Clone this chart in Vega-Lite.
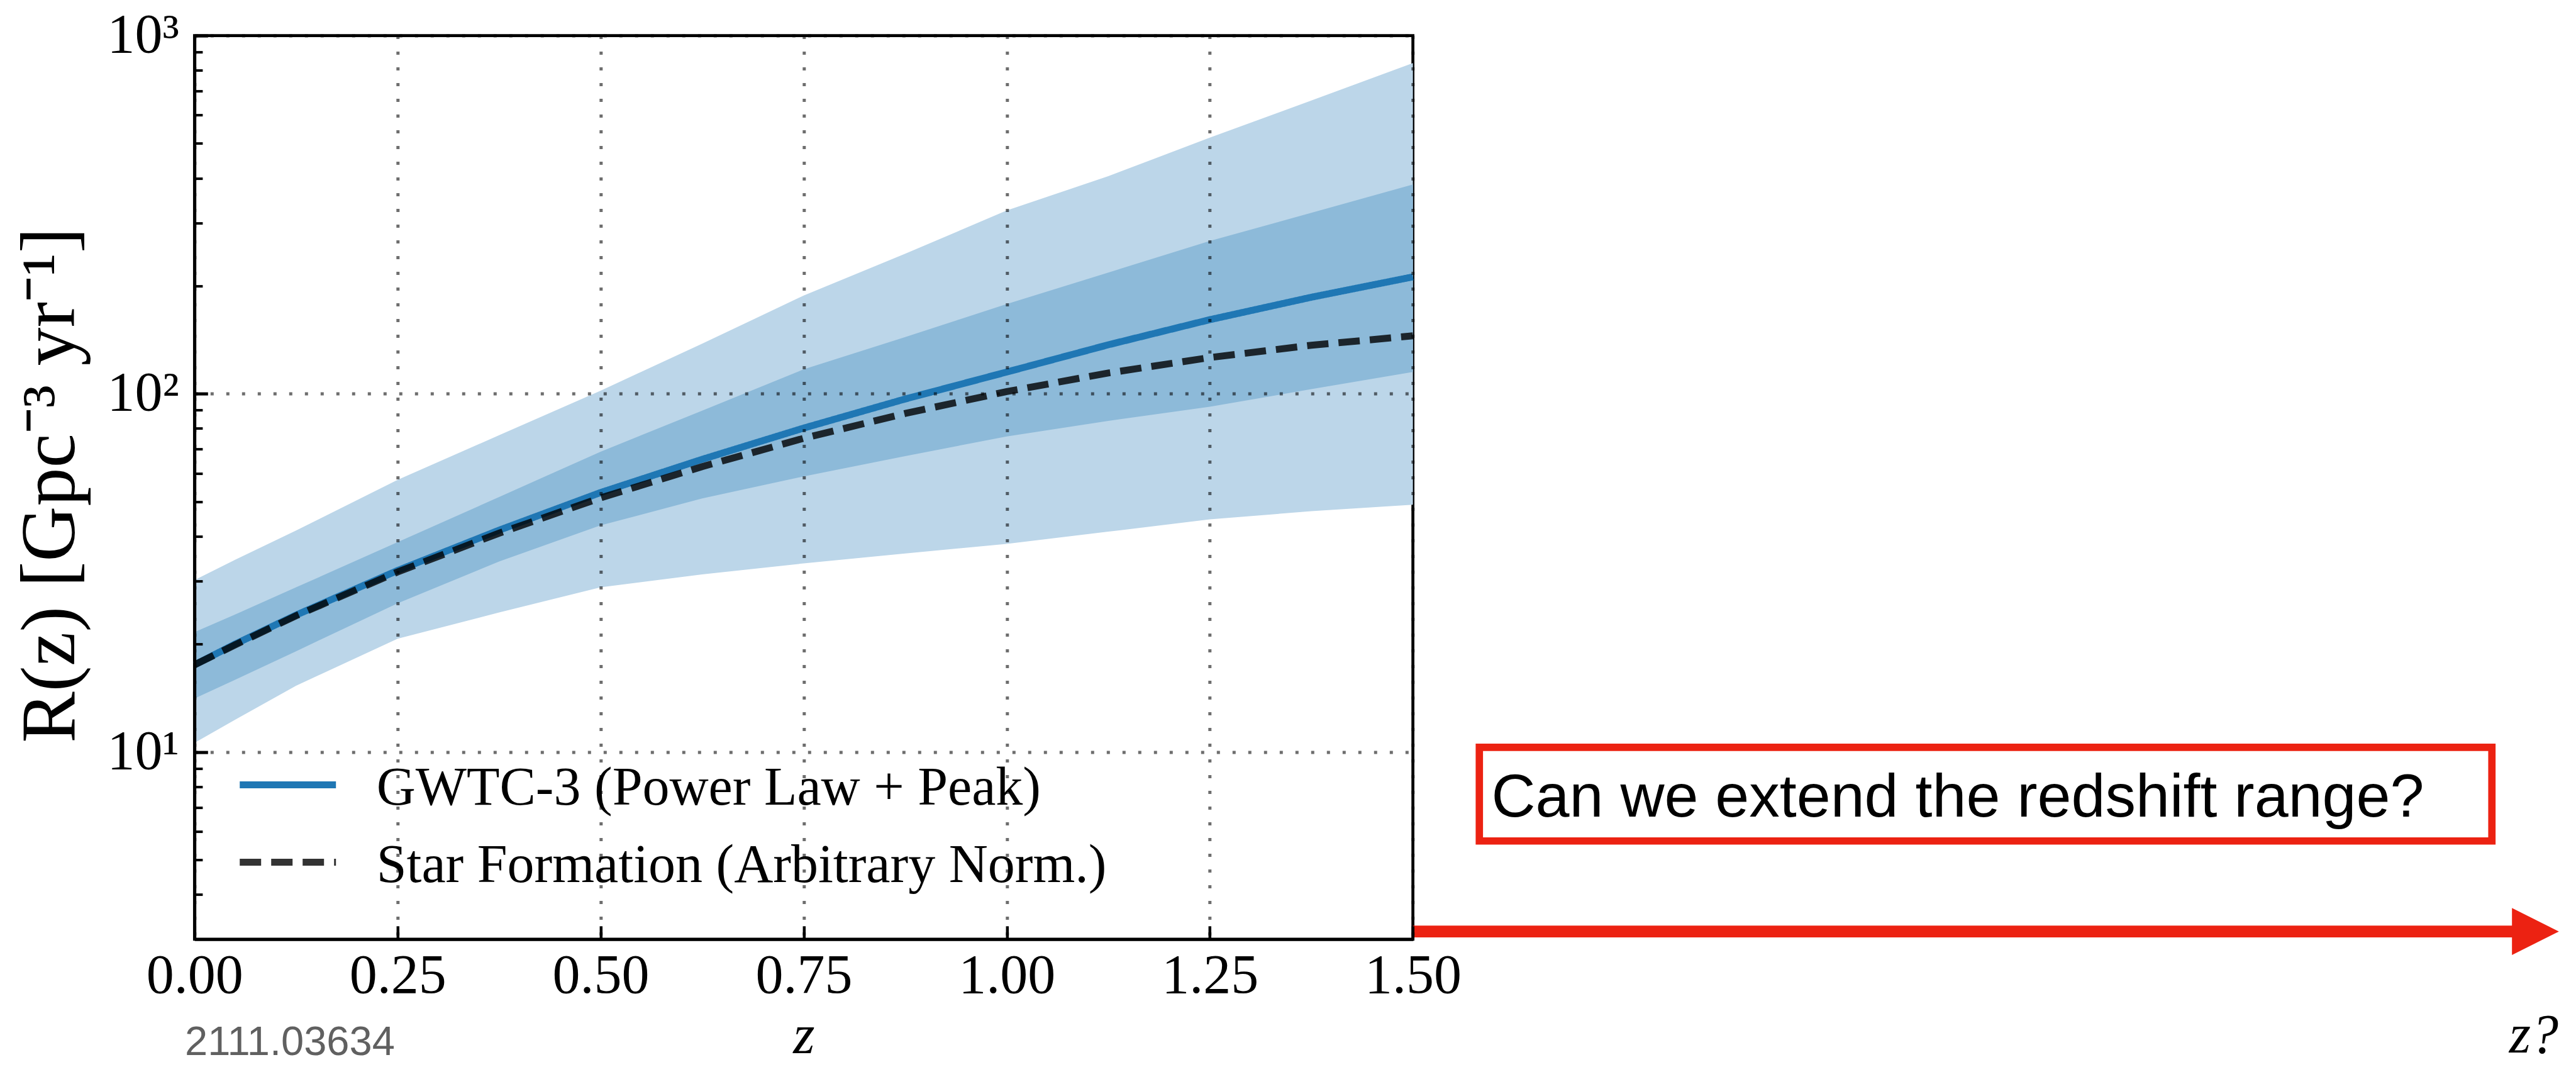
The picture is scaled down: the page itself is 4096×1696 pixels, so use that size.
{
  "$schema": "https://vega.github.io/schema/vega-lite/v6.json",
  "autosize": "none",
  "padding": {"left": 309.3, "top": 56.6, "right": 1849.4, "bottom": 203.2},
  "width": 1937.3,
  "height": 1436.2,
  "background": "white",
  "config": {
    "view": {"stroke": "black", "strokeWidth": 4.7},
    "font": "Liberation Serif"
  },
  "datasets": {
    "bands": [
      {"z": 0.0, "lo90": 10.6, "lo50": 14.1, "hi50": 21.6, "hi90": 30.2},
      {"z": 0.05, "lo90": 12.3, "lo50": 15.9, "hi50": 24.2, "hi90": 34.4},
      {"z": 0.125, "lo90": 15.3, "lo50": 19.1, "hi50": 28.8, "hi90": 41.5},
      {"z": 0.25, "lo90": 20.7, "lo50": 26.0, "hi50": 38.5, "hi90": 57.5},
      {"z": 0.375, "lo90": 24.5, "lo50": 34.0, "hi50": 51.5, "hi90": 76.6},
      {"z": 0.5, "lo90": 28.8, "lo50": 42.9, "hi50": 68.9, "hi90": 102},
      {"z": 0.625, "lo90": 31.3, "lo50": 51.0, "hi50": 89.7, "hi90": 138},
      {"z": 0.75, "lo90": 33.6, "lo50": 58.8, "hi50": 117, "hi90": 188},
      {"z": 0.875, "lo90": 35.8, "lo50": 67.0, "hi50": 144, "hi90": 246},
      {"z": 1.0, "lo90": 38.1, "lo50": 76.0, "hi50": 178, "hi90": 325},
      {"z": 1.125, "lo90": 41.2, "lo50": 84.0, "hi50": 218, "hi90": 405},
      {"z": 1.25, "lo90": 44.6, "lo50": 92.0, "hi50": 267, "hi90": 519},
      {"z": 1.375, "lo90": 47.0, "lo50": 103, "hi50": 320, "hi90": 659},
      {"z": 1.5, "lo90": 49.0, "lo50": 115, "hi50": 384, "hi90": 838}
    ],
    "lines": [
      {"z": 0.0, "series": "GWTC-3 (Power Law + Peak)", "R": 17.5},
      {"z": 0.05, "series": "GWTC-3 (Power Law + Peak)", "R": 20.0},
      {"z": 0.125, "series": "GWTC-3 (Power Law + Peak)", "R": 24.1},
      {"z": 0.25, "series": "GWTC-3 (Power Law + Peak)", "R": 32.1},
      {"z": 0.375, "series": "GWTC-3 (Power Law + Peak)", "R": 41.6},
      {"z": 0.5, "series": "GWTC-3 (Power Law + Peak)", "R": 53.0},
      {"z": 0.625, "series": "GWTC-3 (Power Law + Peak)", "R": 65.6},
      {"z": 0.75, "series": "GWTC-3 (Power Law + Peak)", "R": 80.2},
      {"z": 0.875, "series": "GWTC-3 (Power Law + Peak)", "R": 96.7},
      {"z": 1.0, "series": "GWTC-3 (Power Law + Peak)", "R": 115},
      {"z": 1.125, "series": "GWTC-3 (Power Law + Peak)", "R": 137},
      {"z": 1.25, "series": "GWTC-3 (Power Law + Peak)", "R": 161},
      {"z": 1.375, "series": "GWTC-3 (Power Law + Peak)", "R": 186},
      {"z": 1.5, "series": "GWTC-3 (Power Law + Peak)", "R": 212},
      {"z": 0.0, "series": "Star Formation (Arbitrary Norm.)", "R": 17.5},
      {"z": 0.05, "series": "Star Formation (Arbitrary Norm.)", "R": 19.9},
      {"z": 0.125, "series": "Star Formation (Arbitrary Norm.)", "R": 24.0},
      {"z": 0.25, "series": "Star Formation (Arbitrary Norm.)", "R": 31.8},
      {"z": 0.375, "series": "Star Formation (Arbitrary Norm.)", "R": 40.8},
      {"z": 0.5, "series": "Star Formation (Arbitrary Norm.)", "R": 51.2},
      {"z": 0.625, "series": "Star Formation (Arbitrary Norm.)", "R": 62.6},
      {"z": 0.75, "series": "Star Formation (Arbitrary Norm.)", "R": 75.1},
      {"z": 0.875, "series": "Star Formation (Arbitrary Norm.)", "R": 88.1},
      {"z": 1.0, "series": "Star Formation (Arbitrary Norm.)", "R": 101.4},
      {"z": 1.125, "series": "Star Formation (Arbitrary Norm.)", "R": 114.3},
      {"z": 1.25, "series": "Star Formation (Arbitrary Norm.)", "R": 126.2},
      {"z": 1.375, "series": "Star Formation (Arbitrary Norm.)", "R": 136.6},
      {"z": 1.5, "series": "Star Formation (Arbitrary Norm.)", "R": 145.1}
    ],
    "note": [{"label": "annotation"}]
  },
  "layer": [
    {
      "data": {"name": "bands"},
      "mark": {"type": "area", "color": "#bcd6e9", "opacity": 1},
      "encoding": {
        "x": {
          "field": "z", "type": "quantitative",
          "scale": {"domain": [0, 1.5], "nice": false, "zero": false},
          "axis": {
            "values": [0, 0.25, 0.5, 0.75, 1, 1.25, 1.5],
            "format": ".2f",
            "title": "z",
            "titleFont": "Liberation Serif", "titleFontStyle": "italic", "titleFontWeight": "normal",
            "titleFontSize": 88, "titleColor": "black",
            "titleX": 968.65, "titleY": 181, "titleAlign": "center", "titleBaseline": "alphabetic",
            "labelFont": "Liberation Serif", "labelFontSize": 88, "labelColor": "black",
            "labelBaseline": "alphabetic", "labelPadding": 106, "labelFlush": false, "labelOverlap": false,
            "tickSize": -21, "tickWidth": 4.5, "tickColor": "black",
            "domainColor": "black", "domainWidth": 4.7,
            "grid": true, "gridColor": "black", "gridOpacity": 0.57, "gridWidth": 5, "gridDash": [5, 20],
            "zindex": 1
          }
        },
        "y": {
          "field": "lo90", "type": "quantitative",
          "scale": {"type": "log", "domain": [3, 1000], "nice": false},
          "axis": {
            "values": [4, 5, 6, 7, 8, 9, 10, 20, 30, 40, 50, 60, 70, 80, 90, 100, 200, 300, 400, 500, 600, 700, 800, 900, 1000],
            "labelExpr": "datum.value == 10 ? '10¹' : datum.value == 100 ? '10²' : datum.value == 1000 ? '10³' : ''",
            "title": "R(z)   [Gpc⁻³  yr⁻¹]",
            "titleFont": "Liberation Serif", "titleFontWeight": "normal", "titleFontSize": 122, "titleColor": "black",
            "titleAngle": 270, "titleX": -191.5, "titleY": 714, "titleAlign": "center", "titleBaseline": "alphabetic",
            "labelFont": "Liberation Serif", "labelFontSize": 88, "labelColor": "black",
            "labelAlign": "right", "labelBaseline": "middle", "labelPadding": 46, "labelOverlap": false,
            "tickSize": {"condition": {"test": "datum.value == 10 || datum.value == 100 || datum.value == 1000", "value": -21}, "value": -12.6},
            "tickWidth": {"condition": {"test": "datum.value == 10 || datum.value == 100 || datum.value == 1000", "value": 5}, "value": 4},
            "tickColor": "black",
            "domainColor": "black", "domainWidth": 4.7,
            "grid": true, "gridColor": "black", "gridWidth": 5, "gridDash": [5, 20],
            "gridOpacity": {"condition": {"test": "datum.value == 10 || datum.value == 100 || datum.value == 1000", "value": 0.57}, "value": 0},
            "zindex": 1
          }
        },
        "y2": {"field": "hi90"}
      }
    },
    {
      "data": {"name": "bands"},
      "mark": {"type": "area", "color": "#8dbad9", "opacity": 1},
      "encoding": {
        "x": {"field": "z", "type": "quantitative"},
        "y": {"field": "lo50", "type": "quantitative"},
        "y2": {"field": "hi50"}
      }
    },
    {
      "data": {"name": "lines"},
      "mark": {"type": "line", "strokeWidth": 11, "strokeCap": "butt"},
      "encoding": {
        "x": {"field": "z", "type": "quantitative"},
        "y": {"field": "R", "type": "quantitative"},
        "color": {
          "field": "series", "type": "nominal",
          "scale": {"domain": ["GWTC-3 (Power Law + Peak)", "Star Formation (Arbitrary Norm.)"], "range": ["#1f77b4", "#000000"]},
          "legend": {
            "orient": "none", "legendX": 66.4, "legendY": 1151, "title": null,
            "symbolType": "stroke", "symbolSize": 23409, "symbolStrokeWidth": 11, "symbolOffset": 0,
            "labelFont": "Liberation Serif", "labelFontSize": 86, "labelColor": "black", "labelLimit": 3000,
            "labelOffset": 59, "rowPadding": 35, "padding": 0, "clipHeight": 80,
            "encode": {"labels": {"update": {"dy": {"value": 5}}}}
          }
        },
        "strokeDash": {
          "field": "series", "type": "nominal",
          "scale": {"domain": ["GWTC-3 (Power Law + Peak)", "Star Formation (Arbitrary Norm.)"], "range": [[1, 0], [34, 16]]}
        },
        "opacity": {
          "field": "series", "type": "nominal",
          "scale": {"domain": ["GWTC-3 (Power Law + Peak)", "Star Formation (Arbitrary Norm.)"], "range": [1, 0.8]}
        }
      }
    },
    {
      "data": {"name": "note"},
      "mark": {"type": "rule", "color": "#ec2212", "strokeWidth": 18.9, "strokeCap": "butt", "clip": false},
      "encoding": {
        "x": {"datum": 1.5, "type": "quantitative"},
        "x2": {"datum": 2.86},
        "y": {"datum": 3.151, "type": "quantitative"}
      }
    },
    {
      "data": {"name": "note"},
      "mark": {"type": "point", "shape": "M-1,-1L1,0L-1,1Z", "filled": true, "color": "#ec2212", "opacity": 1, "size": 5565, "strokeWidth": 0, "clip": false},
      "encoding": {
        "x": {"datum": 2.882, "type": "quantitative"},
        "y": {"datum": 3.151, "type": "quantitative"}
      }
    },
    {
      "data": {"name": "note"},
      "mark": {"type": "rect", "fill": "white", "fillOpacity": 0, "stroke": "#ec2212", "strokeWidth": 11.7, "clip": false},
      "encoding": {
        "x": {"datum": 1.5818, "type": "quantitative"},
        "x2": {"datum": 2.8284},
        "y": {"datum": 5.639, "type": "quantitative"},
        "y2": {"datum": 10.295}
      }
    },
    {
      "data": {"name": "note"},
      "mark": {"type": "text", "font": "Liberation Sans", "fontSize": 97, "align": "left", "baseline": "alphabetic", "color": "black", "clip": false},
      "encoding": {
        "x": {"datum": 1.5967, "type": "quantitative"},
        "y": {"datum": 6.605, "type": "quantitative"},
        "text": {"value": "Can we extend the redshift range?"}
      }
    },
    {
      "data": {"name": "note"},
      "mark": {"type": "text", "font": "Liberation Serif", "fontStyle": "italic", "fontSize": 88, "align": "right", "baseline": "alphabetic", "color": "black", "clip": false},
      "encoding": {
        "x": {"datum": 2.9102, "type": "quantitative"},
        "y": {"datum": 1.45, "type": "quantitative"},
        "text": {"value": "z?"}
      }
    },
    {
      "data": {"name": "note"},
      "mark": {"type": "text", "font": "Liberation Sans", "fontSize": 65, "align": "left", "baseline": "alphabetic", "color": "#606060", "clip": false},
      "encoding": {
        "x": {"datum": -0.0118, "type": "quantitative"},
        "y": {"datum": 1.4228, "type": "quantitative"},
        "text": {"value": "2111.03634"}
      }
    }
  ]
}
